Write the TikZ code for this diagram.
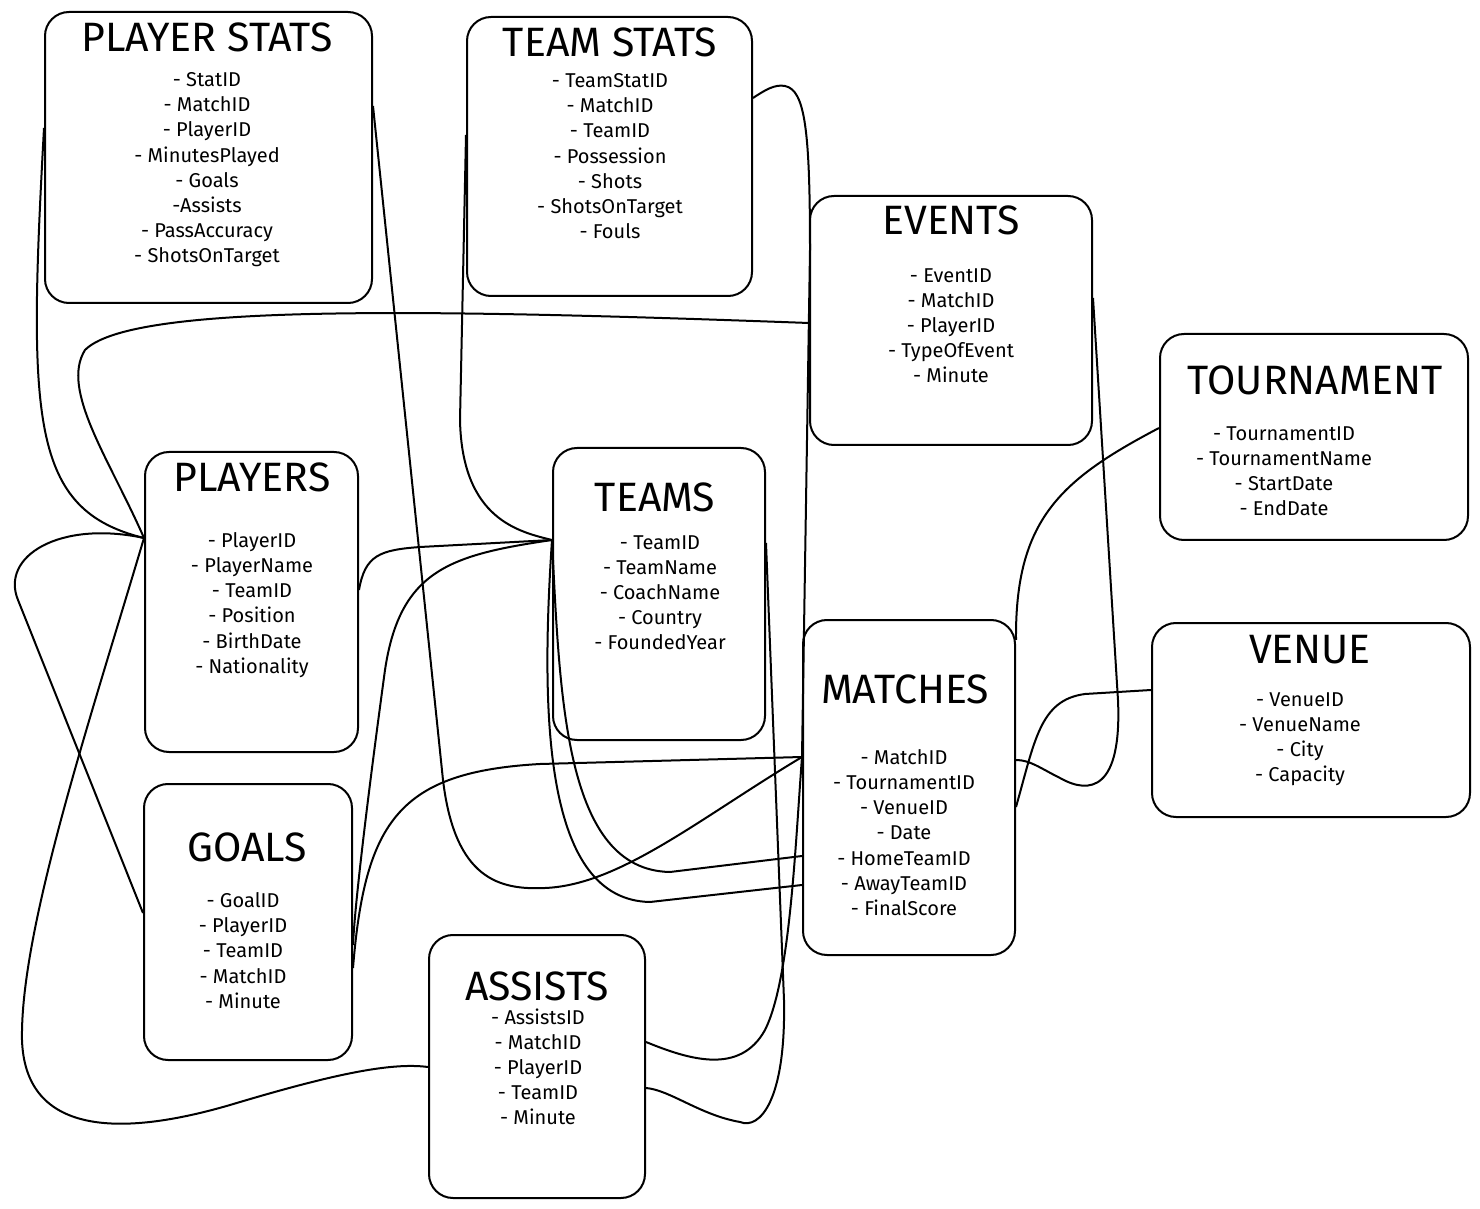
\documentclass[tikz,border=0pt]{standalone}
\usepackage{fontspec}
\setmainfont{Fira Sans}
\usetikzlibrary{fit}

\tikzset{
  table/.style={draw, line width=1pt, rounded corners=12pt, inner sep=0pt},
  title/.style={font=\fontsize{20.5}{23}\selectfont},
  fields/.style={anchor=north, inner sep=0pt, align=center,
    font=\fontsize{10}{12.6}\selectfont},
}

\begin{document}
\begin{tikzpicture}[x=0.5pt, y=-0.5pt]
  \useasboundingbox (0,0) rectangle (1480,1209);

  % tables
  \begin{scope}[every node/.style={table}]
    \node[fit={(45,12) (372,303)}]     (pstats)  {};
    \node[fit={(467,17) (752,296)}]    (tstats)  {};
    \node[fit={(810,196) (1092,445)}]  (events)  {};
    \node[fit={(1160,334) (1468,540)}] (tourn)   {};
    \node[fit={(145,452) (358,752)}]   (players) {};
    \node[fit={(553,448) (765,740)}]   (teams)   {};
    \node[fit={(803,620) (1015,955)}]  (matches) {};
    \node[fit={(1152,623) (1470,817)}] (venue)   {};
    \node[fit={(144,784) (352,1060)}]  (goals)   {};
    \node[fit={(429,935) (645,1198)}]  (assists) {};
  \end{scope}

  \begin{scope}[every node/.style={title}]
    \node (pstats-t)  at (207,37)   {PLAYER STATS};
    \node (tstats-t)  at (610,42)   {TEAM STATS};
    \node (events-t)  at (951,220)  {EVENTS};
    \node (tourn-t)   at (1315,380) {TOURNAMENT};
    \node (players-t) at (252,477)  {PLAYERS};
    \node (teams-t)   at (655,497)  {TEAMS};
    \node (matches-t) at (905,689)  {MATCHES};
    \node (venue-t)   at (1310,650) {VENUE};
    \node (goals-t)   at (247,847)  {GOALS};
    \node (assists-t) at (537,986)  {ASSISTS};
  \end{scope}

  \begin{scope}[every node/.style={fields}]
    \node (pstats-f)  at (207,72)   {- StatID\\- MatchID\\- PlayerID\\- MinutesPlayed\\- Goals\\-Assists\\- PassAccuracy\\- ShotsOnTarget};
    \node (tstats-f)  at (610,73)   {- TeamStatID\\- MatchID\\- TeamID\\- Possession\\- Shots\\- ShotsOnTarget\\- Fouls};
    \node (events-f)  at (951,268)  {- EventID\\- MatchID\\- PlayerID\\- TypeOfEvent\\- Minute};
    \node (tourn-f)   at (1284,426) {- TournamentID\\- TournamentName\\- StartDate\\- EndDate};
    \node (players-f) at (252,532)  {- PlayerID\\- PlayerName\\- TeamID\\- Position\\- BirthDate\\- Nationality};
    \node (teams-f)   at (660,535)  {- TeamID\\- TeamName\\- CoachName\\- Country\\- FoundedYear};
    \node (matches-f) at (904,749)  {- MatchID\\- TournamentID\\- VenueID\\- Date\\- HomeTeamID\\- AwayTeamID\\- FinalScore};
    \node (venue-f)   at (1300,692) {- VenueID\\- VenueName\\- City\\- Capacity};
    \node (goals-f)   at (243,892)  {- GoalID\\- PlayerID\\- TeamID\\- MatchID\\- Minute};
    \node (assists-f) at (538,1008) {- AssistsID\\- MatchID\\- PlayerID\\- TeamID\\- Minute};
  \end{scope}

  % attach points
  \coordinate (ps-w)  at (pstats.west  |- 0,128);
  \coordinate (ps-e)  at (pstats.east  |- 0,106);
  \coordinate (ts-w)  at (tstats.west  |- 0,135);
  \coordinate (ts-e)  at (tstats.east  |- 0,98);
  \coordinate (ev-w)  at (events.west  |- 0,323);
  \coordinate (ev-e)  at (events.east  |- 0,298);
  \coordinate (pl-w)  at (players.west |- 0,538);
  \coordinate (pl-e)  at (players.east |- 0,590);
  \coordinate (tm-w)  at (teams.west   |- 0,540);
  \coordinate (tm-e)  at (teams.east   |- 0,543);
  \coordinate (go-w)  at (goals.west   |- 0,913);
  \coordinate (go-e1) at (goals.east   |- 0,945);
  \coordinate (go-e2) at (goals.east   |- 0,968);
  \coordinate (as-w)  at (assists.west |- 0,1067);
  \coordinate (as-e1) at (assists.east |- 0,1042);
  \coordinate (as-e2) at (assists.east |- 0,1088);
  \coordinate (ma-w)  at (matches.west |- 0,757);
  \coordinate (ma-hw) at (matches.west |- 0,856);
  \coordinate (ma-aw) at (matches.west |- 0,885);
  \coordinate (ma-ne) at (matches.east |- 0,640);
  \coordinate (ma-e1) at (matches.east |- 0,760);
  \coordinate (ma-e2) at (matches.east |- 0,807);
  \coordinate (to-w)  at (tourn.west   |- 0,428);
  \coordinate (ve-w)  at (venue.west   |- 0,690);

  % relations
  \begin{scope}[line width=1pt]
    \draw (ps-w) .. controls (28,420) and (30,510) .. (pl-w);
    \draw (ev-w) .. controls (400,308) and (130,305) .. (85,350)
                 .. controls (60,390) and (110,460) .. (pl-w);
    \draw (pl-w) .. controls (60,520) and (0,556) .. (18,600) -- (go-w);
    \draw (pl-w) .. controls (90,720) and (20,930) .. (22,1040)
                 .. controls (25,1130) and (110,1140) .. (230,1105)
                 .. controls (330,1075) and (390,1062) .. (as-w);
    \draw (ps-e) -- (443,780) .. controls (455,880) and (500,890) .. (545,888)
                 .. controls (620,885) and (700,818) .. (ma-w);
    \draw (ts-w) -- (460,420) .. controls (462,520) and (520,532) .. (tm-w);
    \draw (ts-e) .. controls (765,90) and (775,84) .. (785,86)
                 .. controls (805,90) and (810,130) .. (810,250) -- (ma-w);
    \draw (pl-e) .. controls (365,555) and (380,550) .. (420,547) -- (tm-w);
    \draw (tm-w) .. controls (450,555) and (400,570) .. (385,670)
                 .. controls (370,780) and (355,900) .. (go-e1);
    \draw (go-e2) .. controls (365,820) and (400,772) .. (540,764) -- (ma-w);
    \draw (tm-w) .. controls (560,700) and (565,870) .. (670,872) -- (ma-hw);
    \draw (tm-w) .. controls (540,720) and (545,900) .. (650,902) -- (ma-aw);
    \draw (as-e1) .. controls (690,1060) and (740,1075) .. (765,1030)
                  .. controls (790,980) and (795,850) .. (ma-w);
    \draw (tm-e) -- (784,1000) .. controls (786,1100) and (760,1130) .. (740,1122)
                 .. controls (700,1115) and (670,1090) .. (as-e2);
    \draw (ev-e) -- (1118,700) .. controls (1122,790) and (1090,795) .. (1060,778)
                 .. controls (1040,768) and (1030,760) .. (ma-e1);
    \draw (to-w) .. controls (1060,480) and (1015,520) .. (ma-ne);
    \draw (ve-w) -- (1085,694) .. controls (1040,700) and (1035,740) .. (ma-e2);
  \end{scope}

\end{tikzpicture}
\end{document}
